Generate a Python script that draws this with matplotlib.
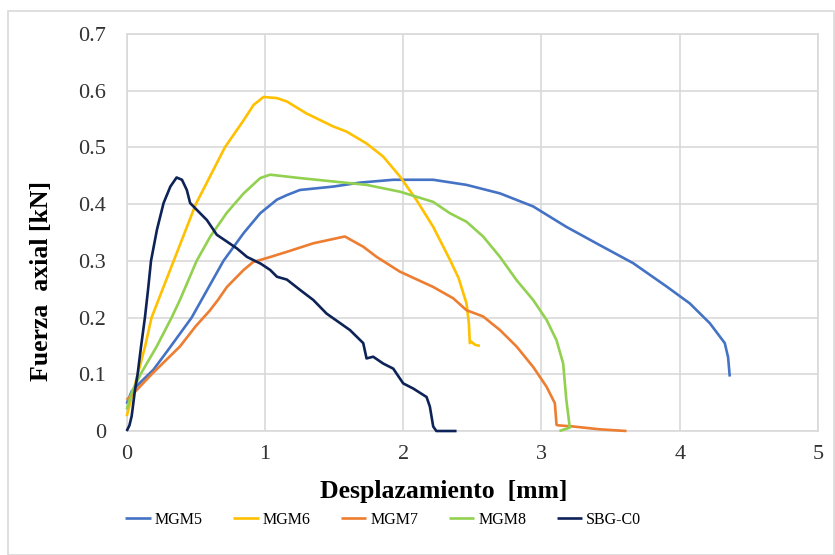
import matplotlib
matplotlib.use("Agg")
import matplotlib.pyplot as plt
from matplotlib.patches import Rectangle

plt.rcParams['font.family'] = ['Liberation Serif', 'DejaVu Serif']

# ---- data ----
mgm5_x = [0, 0.036, 0.096, 0.193, 0.3, 0.47, 0.70, 0.846, 0.966, 1.087,
          1.159, 1.253, 1.494, 1.687, 1.928, 2.217, 2.458, 2.70, 2.94, 3.18, 3.42, 3.663,
          3.904, 4.073, 4.218, 4.326, 4.35, 4.362]
mgm5_y = [0.048, 0.07, 0.085, 0.108, 0.143, 0.2, 0.3, 0.349, 0.384, 0.408,
          0.416, 0.425, 0.431, 0.438, 0.443, 0.443, 0.434, 0.419, 0.396, 0.36, 0.328, 0.296,
          0.255, 0.225, 0.19, 0.155, 0.13, 0.096]

mgm6_x = [0, 0.08, 0.133, 0.18, 0.34, 0.50, 0.71, 0.846, 0.918, 0.99, 1.087,
          1.159, 1.30, 1.494, 1.59, 1.735, 1.855, 1.976, 2.097, 2.217, 2.338, 2.40, 2.458,
          2.475, 2.482, 2.49, 2.52, 2.555]
mgm6_y = [0.026, 0.1, 0.149, 0.2, 0.3, 0.4, 0.5, 0.548, 0.575, 0.589,
          0.587, 0.581, 0.560, 0.537, 0.528, 0.507, 0.484, 0.449, 0.407, 0.360, 0.302, 0.27,
          0.225, 0.19, 0.155, 0.158, 0.152, 0.150]

mgm7_x = [0, 0.048, 0.18, 0.385, 0.5, 0.6, 0.66, 0.725, 0.846, 0.915, 1.014, 1.159,
          1.35, 1.578, 1.711, 1.808, 1.976, 2.217, 2.362, 2.458, 2.578, 2.70, 2.82, 2.94,
          3.037, 3.097, 3.109, 3.12, 3.229, 3.42, 3.615]
mgm7_y = [0.055, 0.066, 0.1, 0.149, 0.185, 0.212, 0.231, 0.254, 0.284, 0.298, 0.305, 0.316,
          0.331, 0.343, 0.325, 0.307, 0.281, 0.254, 0.234, 0.213, 0.202, 0.178, 0.149, 0.113,
          0.078, 0.049, 0.011, 0.010, 0.008, 0.003, 0.0]

mgm8_x = [0, 0.04, 0.1, 0.217, 0.325, 0.385, 0.506, 0.605, 0.725, 0.846, 0.966, 1.038, 1.253,
          1.494, 1.735, 1.976, 2.217, 2.338, 2.458, 2.578, 2.70, 2.82, 2.94, 3.037, 3.109,
          3.157, 3.18, 3.205, 3.13]
mgm8_y = [0.038, 0.07, 0.1, 0.149, 0.2, 0.231, 0.3, 0.343, 0.385, 0.419, 0.446, 0.452, 0.446,
          0.440, 0.434, 0.422, 0.404, 0.384, 0.369, 0.343, 0.307, 0.266, 0.231, 0.196, 0.160,
          0.119, 0.055, 0.006, 0.0]

sbg_x = [0, 0.02, 0.036, 0.06, 0.079, 0.104, 0.132, 0.155, 0.176, 0.219, 0.267, 0.316, 0.361,
         0.4, 0.435, 0.459, 0.507, 0.58, 0.652, 0.725, 0.797, 0.87, 0.97, 1.038, 1.087, 1.159,
         1.253, 1.35, 1.446, 1.615, 1.711, 1.735, 1.783, 1.855, 1.928, 2.0, 2.072, 2.169,
         2.193, 2.217, 2.24, 2.386]
sbg_y = [0.0, 0.01, 0.026, 0.072, 0.1, 0.149, 0.2, 0.25, 0.3, 0.355, 0.402, 0.431, 0.447,
         0.443, 0.425, 0.402, 0.39, 0.372, 0.346, 0.334, 0.322, 0.307, 0.295, 0.284, 0.272,
         0.267, 0.249, 0.231, 0.207, 0.178, 0.155, 0.128, 0.131, 0.119, 0.11, 0.084, 0.075,
         0.06, 0.043, 0.008, 0.0, 0.0]

series_names = ['MGM5', 'MGM6', 'MGM7', 'MGM8', 'SBG-C0']
xticks = [0, 1, 2, 3, 4, 5]
yticks = [0, 0.1, 0.2, 0.3, 0.4, 0.5, 0.6, 0.7]
ytick_labels = ['0', '0.1', '0.2', '0.3', '0.4', '0.5', '0.6', '0.7']

colors = ['#4472C4', '#FFC000', '#ED7D31', '#92D050', '#0D2257']

fig = plt.figure(figsize=(8.35, 5.55), dpi=100)
ax = fig.add_axes([0.1517, 0.2234, 0.8279, 0.7153])

data = [(mgm5_x, mgm5_y), (mgm6_x, mgm6_y), (mgm7_x, mgm7_y), (mgm8_x, mgm8_y), (sbg_x, sbg_y)]
for (xs, ys), name, c in zip(data, series_names, colors):
    ax.plot(xs, ys, color=c, lw=1.9, label=name, solid_joinstyle='round',
            solid_capstyle='butt', zorder=3, clip_on=False)

ax.set_xlim(0, 5)
ax.set_ylim(0, 0.7)
ax.set_xticks(xticks)
ax.set_xticklabels([str(t) for t in xticks])
ax.set_yticks(yticks)
ax.set_yticklabels(ytick_labels)
ax.grid(True, color='#d9d9d9', lw=1.2)
ax.set_axisbelow(True)
for s in ax.spines.values():
    s.set_color('#d9d9d9')
    s.set_linewidth(1.2)
    s.set_zorder(1)
ax.tick_params(axis='both', length=0, labelsize=16)
ax.tick_params(axis='x', pad=10)
ax.tick_params(axis='y', pad=15)
for lab in ax.get_xticklabels() + ax.get_yticklabels():
    lab.set_color('#333333')

fig.text(0.531, 0.114, 'Desplazamiento  [mm]', ha='center', va='center',
         fontsize=18.5, fontweight='bold')
fig.text(0.05, 0.494, 'Fuerza  axial [kN]', ha='center', va='center', rotation=90,
         fontsize=18.5, fontweight='bold')

leg = fig.legend(loc='center', bbox_to_anchor=(0.459, 0.063), ncol=5, frameon=False,
                 fontsize=11.5, handlelength=1.6, handletextpad=0.25, columnspacing=1.9)

fig.patches.append(Rectangle((0.009, 0.0), 0.99, 0.981, transform=fig.transFigure,
                             fill=False, edgecolor='#d9d9d9', lw=1.2))

fig.savefig('out.png', dpi=100)
